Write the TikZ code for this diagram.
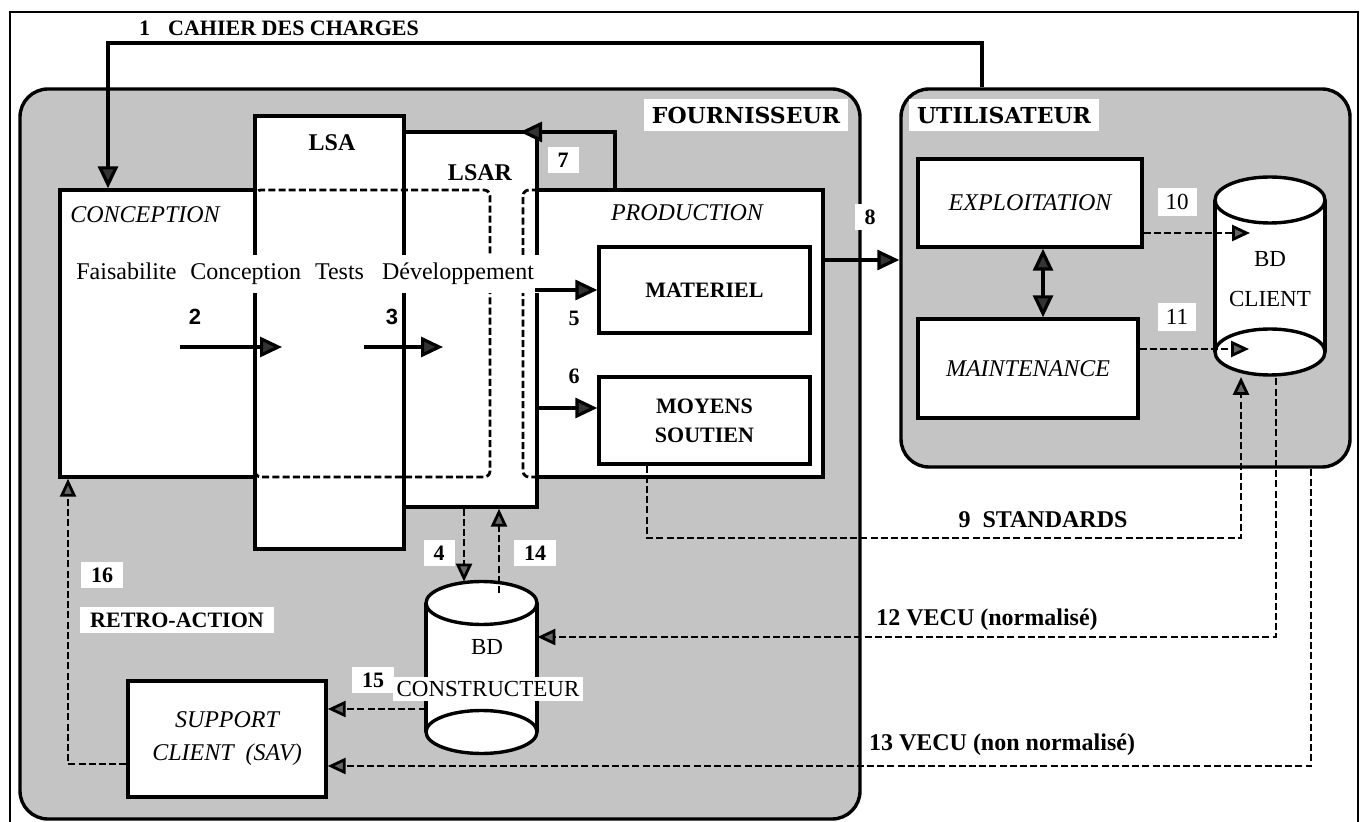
\documentclass[tikz,border=0pt]{standalone}
\usepackage{fontspec}
\setmainfont{Liberation Serif}
\setsansfont{Liberation Sans}
\newfontfamily\zonefont{DejaVu Serif}
\usetikzlibrary{arrows.meta}

\tikzset{
  cadre/.style={line width=1.3pt},
  zone/.style={draw, line width=1.7pt, rounded corners=14pt, fill=black!23},
  blok/.style={draw, line width=1.7pt, fill=white},
  pointille/.style={line width=1.4pt, dash pattern=on 3.5pt off 1.6pt, rounded corners=3pt},
  fleche/.style={line width=1.6pt, -{Triangle[length=11pt,width=10pt,fill=black!80]}},
  allerretour/.style={line width=1.6pt, {Triangle[length=11pt,width=10pt,fill=black!80]}-{Triangle[length=11pt,width=10pt,fill=black!80]}},
  flux/.style={line width=1.4pt, dash pattern=on 3.5pt off 1.6pt, -{Triangle[length=9pt,width=8pt,fill=black!60]}},
  gras/.style={font=\bfseries\fontsize{11}{14.5}\selectfont},
  ital/.style={font=\itshape\fontsize{12}{16.5}\selectfont},
  droit/.style={font=\fontsize{11.5}{13}\selectfont},
  titre/.style={fill=white, inner xsep=4pt, inner ysep=4pt, font=\zonefont\bfseries\fontsize{11}{14}\selectfont},
  numero/.style={gras, fill=white, inner xsep=5pt, inner ysep=3pt},
}

\begin{document}
\begin{tikzpicture}[x=0.5pt, y=-0.5pt]
  \useasboundingbox (0,0) rectangle (1363,822);
  \draw[cadre] (10,12) rectangle (1358,840);

  % les deux zones
  \node[zone, minimum width=420pt, minimum height=365pt] (four) at (440,454) {};
  \node[zone, minimum width=224.5pt, minimum height=189pt] (util) at (1125.5,278) {};
  \node[titre] at (746,115) {FOURNISSEUR};
  \node[titre] at (1004,115) {UTILISATEUR};

  % fournisseur
  \node[blok, minimum width=66.5pt, minimum height=187.5pt] (lsar) at (470.5,319.5) {};
  \node[blok, minimum width=74.5pt, minimum height=216.5pt] (lsa) at (329.5,332.5) {};
  \node[blok, minimum width=97.5pt, minimum height=143.5pt] (concep) at (157.5,333.5) {};
  \draw[pointille] (600,190) -| (523,477) -- (600,477);
  \node[blok, minimum width=143pt, minimum height=143.5pt] (prod) at (680,333.5) {};
  \draw[pointille] (255,190) rectangle (490,477);
  \node[blok, gras, minimum width=105.5pt, minimum height=43pt] (mat) at (704.5,290) {MATERIEL};
  \node[blok, gras, align=center, minimum width=105.5pt, minimum height=43.5pt] (moy) at (704.5,420.5) {MOYENS\\SOUTIEN};
  \node[blok, ital, align=center, minimum width=99pt, minimum height=58pt] (sav) at (227,739) {SUPPORT\\CLIENT~~(SAV)};

  % utilisateur
  \node[blok, ital, minimum width=112pt, minimum height=44pt] (expl) at (1030,203) {EXPLOITATION};
  \node[blok, ital, minimum width=110pt, minimum height=49.5pt] (maint) at (1028,368.5) {MAINTENANCE};

  % bases de donnees
  \fill[white] (1215,200) rectangle (1325,352);
  \draw[line width=1.7pt] (1215,200) -- (1215,352) (1325,200) -- (1325,352);
  \draw[line width=1.7pt, fill=white] (1270,200) ellipse [x radius=27.5pt, y radius=11.5pt];
  \draw[line width=1.7pt, fill=white] (1270,352) ellipse [x radius=27.5pt, y radius=11.5pt];
  \node[droit, align=center, minimum width=55pt, minimum height=99pt] (bdc) at (1270,279) {BD\\[7pt]CLIENT};

  \fill[white] (426,603) rectangle (537,732);
  \draw[line width=1.7pt] (426,603) -- (426,732) (537,603) -- (537,732);
  \draw[line width=1.7pt, fill=white] (481.5,603) ellipse [x radius=27.75pt, y radius=10.75pt];
  \draw[line width=1.7pt, fill=white] (481.5,732) ellipse [x radius=27.75pt, y radius=10.75pt];
  \node[minimum width=55.5pt, minimum height=85.5pt] (bdk) at (481.5,667.5) {};
  \node[droit] at (487,647) {BD};
  \node[droit, fill=white, inner sep=2pt] at (488,689) {CONSTRUCTEUR};

  \node[ital] at (145,215) {CONCEPTION};
  \node[ital] at (687,213) {PRODUCTION};
  \node[font=\bfseries\fontsize{12}{14}\selectfont] at (332,143) {LSA};
  \node[font=\bfseries\fontsize{12}{14}\selectfont] at (480,173) {LSAR};
  \node[fill=white, anchor=base west, inner xsep=3pt, inner ysep=4pt, font=\fontsize{12}{14}\selectfont]
    at (70,280) {Faisabilite\hspace{7pt}Conception\hspace{7pt}Tests\hspace{9pt}Développement};

  % flux
  \coordinate (h1) at (982,43);
  \coordinate (h1g) at (108,43);
  \draw[fleche] (h1 |- util.north) -- (h1) -- (h1g) -- (h1g |- concep.north);
  \coordinate (d2) at (180,347);
  \coordinate (f2) at (282,347);
  \draw[fleche] (d2) -- (f2);
  \coordinate (d3) at (364,347);
  \coordinate (f3) at (443,347);
  \draw[fleche] (d3) -- (f3);
  \coordinate (x4) at (464,0);
  \draw[flux] (x4 |- lsar.south) -- (x4 |- bdk.north);
  \draw[fleche] (mat.west -| prod.west) -- (mat.west);
  \coordinate (y6) at (0,408);
  \draw[fleche] (y6 -| prod.west) -- (y6 -| moy.west);
  \coordinate (c7) at (615,132);
  \coordinate (f7) at (520,132);
  \draw[fleche] (c7 |- prod.north) -- (c7) -- (f7);
  \coordinate (y8) at (0,260);
  \draw[fleche] (y8 -| prod.east) -- (y8 -| util.west);
  \coordinate (c9) at (647,538);
  \coordinate (c9d) at (1241,538);
  \coordinate (f9) at (1241,377);
  \draw[flux] (c9 |- moy.south) -- (c9) -- (c9d) -- (f9);
  \coordinate (f10) at (1250,233);
  \draw[flux] (f10 -| expl.east) -- (f10);
  \coordinate (f11) at (1249,349);
  \draw[flux] (f11 -| maint.east) -- (f11);
  \coordinate (xd) at (1043,0);
  \draw[allerretour] (xd |- expl.south) -- (xd |- maint.north);
  \coordinate (c12) at (1276,637);
  \draw[flux] (c12 |- bdc.south) -- (c12) -- (c12 -| bdk.east);
  \coordinate (c13) at (1311,766);
  \draw[flux] (c13 |- util.south) -- (c13) -- (c13 -| sav.east);
  \coordinate (x14) at (499,593);
  \draw[flux] (x14) -- (x14 |- lsar.south);
  \coordinate (y15) at (0,709);
  \draw[flux] (y15 -| bdk.west) -- (y15 -| sav.east);
  \coordinate (c16) at (68,764);
  \draw[flux] (c16 -| sav.west) -- (c16) -- (c16 |- concep.south);

  % numeros et libelles
  \node[gras] at (279,28) {1\hspace{9pt}CAHIER DES CHARGES};
  \node[font=\sffamily\bfseries\fontsize{11}{13}\selectfont] at (195,317) {2};
  \node[font=\sffamily\bfseries\fontsize{11}{13}\selectfont] at (392,317) {3};
  \node[numero] at (439,553) {4};
  \node[gras] at (574,318) {5};
  \node[gras] at (574,376) {6};
  \node[numero] at (563,160) {7};
  \node[numero] at (870,217) {8};
  \node[font=\bfseries\fontsize{12}{14}\selectfont] at (1043,520) {9\hspace{6pt}STANDARDS};
  \node[droit, fill=white, inner xsep=4pt, inner ysep=3pt] at (1177,202) {10};
  \node[droit, fill=white, inner xsep=4pt, inner ysep=3pt] at (1177,317) {11};
  \node[font=\bfseries\fontsize{12}{14}\selectfont] at (987,620) {12 VECU (normalisé)};
  \node[font=\bfseries\fontsize{12}{14}\selectfont] at (1002,745) {13 VECU (non normalisé)};
  \node[numero] at (535,553) {14};
  \node[numero] at (373,680) {15};
  \node[numero] at (102,575) {16};
  \node[numero] at (177,620) {RETRO-ACTION};
\end{tikzpicture}
\end{document}
